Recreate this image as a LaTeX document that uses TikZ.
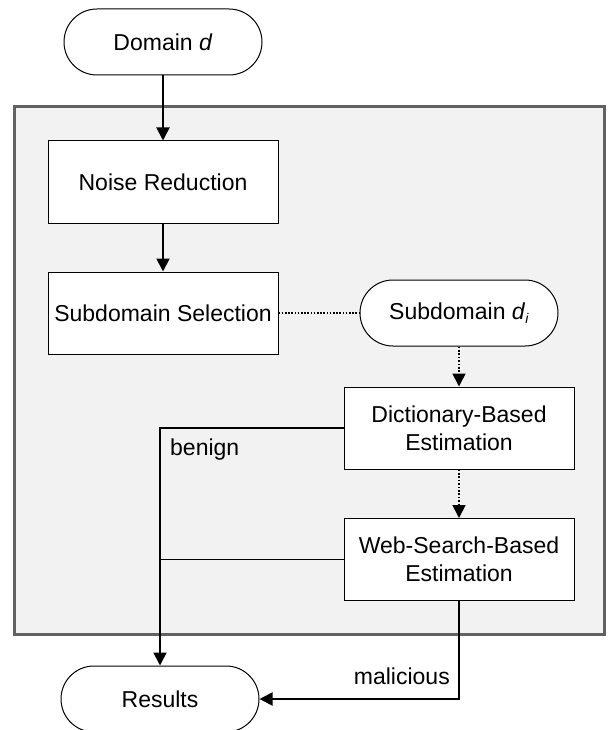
\documentclass[tikz,border=0pt]{standalone}
\usepackage{fontspec}
\setmainfont{Liberation Sans}
\usetikzlibrary{arrows.meta}
\begin{document}
\begin{tikzpicture}[x=1pt,y=-1pt,
  font=\fontsize{23}{28}\selectfont,
  box/.style={draw, fill=white, line width=1pt, minimum width=230pt, minimum height=82pt, align=center, inner sep=0pt},
  term/.style={draw, fill=white, line width=1pt, rounded corners=33pt, minimum width=198pt, minimum height=66pt, inner sep=0pt},
  flow/.style={line width=1.9pt, -{Triangle[length=13pt,width=13pt]}},
  dotflow/.style={line width=1.7pt, dash pattern=on 1.7pt off 1.7pt, -{Triangle[length=13pt,width=13pt,sep=0pt]}},
  dotline/.style={line width=1.5pt, dash pattern=on 1.6pt off 1.6pt},
  plain/.style={line width=1.9pt},
  lbl/.style={inner sep=0pt},
  panel/.style={draw=black!62, line width=3pt, fill=black!5}
]
\useasboundingbox (0,0) rectangle (607,730);
\fill[white] (0,0) rectangle (607,730);
\draw[panel] (14,107) rectangle (604,634);

\node[term] (domain) at (163,42) {Domain \textit{d}};
\node[box] (noise) at (163,182) {Noise Reduction};
\node[box] (subsel) at (163,313) {Subdomain Selection};
\node[term] (subd) at (459,313) {Subdomain \textit{d}\raisebox{-0.35ex}{\fontsize{14}{14}\selectfont\textit{i}}};
\node[box] (dict) at (459,428) {Dictionary-Based\\Estimation};
\node[box] (web) at (459,559.5) {Web-Search-Based\\Estimation};
\node[term] (results) at (160,699) {Results};

\draw[flow] (domain) -- (noise);
\draw[flow] (noise) -- (subsel);
\draw[dotline] (subsel.east) -- (subd.west);
\draw[dotflow] (subd.south) -- (dict.north);
\draw[dotflow] (dict.south) -- (web.north);
\draw[flow] (dict.west) -| (results.north);
\draw[plain] (web.west) -- (web.west -| results.north);
\draw[flow] (web.south) |- (results.east);

\node[lbl, anchor=west] (benign) at (170,450) {benign};
\node[lbl, anchor=east] (malicious) at (450,676) {malicious};
\end{tikzpicture}
\end{document}
